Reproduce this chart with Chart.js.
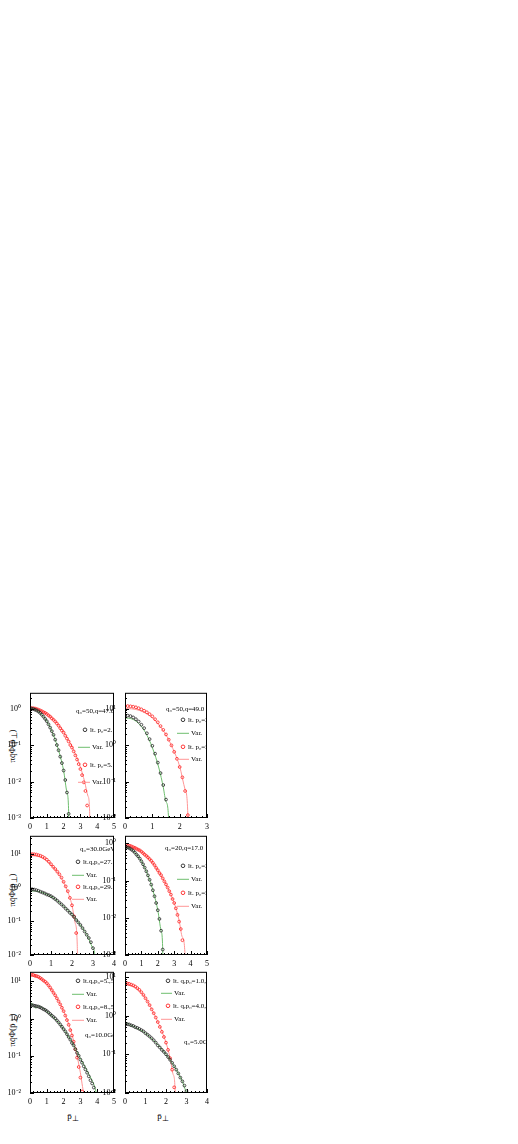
<!DOCTYPE html>
<html>
<head>
<meta charset="utf-8">
<script src="https://cdn.jsdelivr.net/npm/chart.js@4.4.0/dist/chart.umd.min.js"></script>
<style>
body{margin:0;background:#fff;width:518px;height:1144px;position:relative;overflow:hidden;font-family:"Liberation Serif",serif}
canvas{position:absolute}
.yt{position:absolute;transform:translate(-50%,-50%) rotate(-90deg);white-space:nowrap;font-size:9px;color:#000}
.xt{position:absolute;transform:translate(-50%,-50%);white-space:nowrap;font-size:9px;color:#000}
</style>
</head>
<body>
<div class="yt" style="left:13px;top:746px">πq̄Φ(p̄<sub>⊥</sub>)</div>
<div class="yt" style="left:13px;top:890px">πq̄Φ(p̄<sub>⊥</sub>)</div>
<div class="yt" style="left:13px;top:1030px">πq̄Φ(p̄<sub>⊥</sub>)</div>
<div class="xt" style="left:73px;top:1117px">p̄<sub>⊥</sub></div>
<div class="xt" style="left:163px;top:1117px">p̄<sub>⊥</sub></div>
<script>
// common p grid for the "lt." points
const gx = [0,0.1,0.2,0.3,0.4,0.5,0.6,0.7,0.8,0.9,1,1.1,1.2,1.3,1.4,1.5,1.6,1.7,1.8,1.9,2,2.1,2.2,2.3,2.4,2.5,2.6,2.7,2.8,2.9,3,3.1,3.2,3.3,3.4,3.5,3.6,3.7,3.8,3.9,4];

// panel 1: q0=50, q=47.0
const p1LtA = [1.0,0.99,0.97,0.93,0.89,0.83,0.76,0.68,0.60,0.52,0.45,0.37,0.30,0.24,0.19,0.14,0.10,0.072,0.048,0.032,0.020,0.011,0.005,0.0013];
const p1VarAX = [0,0.25,0.5,0.75,1.0,1.25,1.5,1.75,2.0,2.2,2.3,2.35];
const p1VarAY = [1.0,0.96,0.83,0.64,0.45,0.27,0.14,0.06,0.02,0.005,0.0015,1e-6];
const p1LtB = [1.05,1.03,1.02,1.0,0.97,0.93,0.89,0.85,0.80,0.76,0.71,0.65,0.60,0.54,0.49,0.44,0.39,0.34,0.29,0.25,0.22,0.18,0.15,0.125,0.10,0.085,0.067,0.052,0.040,0.030,0.022,0.015,0.0095,0.0055,0.0022];
const p1VarBX = [0,0.5,1,1.5,2,2.5,3,3.25,3.45,3.55,3.6];
const p1VarBY = [1.0,0.92,0.71,0.45,0.23,0.09,0.025,0.01,0.004,0.0015,1e-6];

// panel 2: q0=50, q=49.0
const p2LtA = [6.5,6.4,6.2,5.7,5.1,4.4,3.6,2.9,2.1,1.45,0.95,0.58,0.33,0.17,0.08,0.032,0.009];
const p2VarAX = [0,0.25,0.5,0.75,1.0,1.25,1.4,1.5,1.6,1.64];
const p2VarAY = [5.5,5.2,3.9,2.2,0.85,0.22,0.07,0.028,0.008,1e-6];
const p2LtB = [11.8,11.7,11.5,11.2,10.8,10.2,9.5,8.7,7.9,7.0,6.1,5.1,4.2,3.3,2.6,1.95,1.4,0.98,0.65,0.42,0.25,0.13,0.055,0.012];
const p2VarBX = [0,0.25,0.5,0.75,1.0,1.25,1.5,1.75,2.0,2.2,2.3,2.35];
const p2VarBY = [10.0,9.8,9.0,7.5,5.6,3.5,1.9,0.8,0.26,0.06,0.012,1e-6];

// panel 3: q0=30.0GeV
const p3LtA = [0.91,0.90,0.88,0.85,0.81,0.76,0.72,0.68,0.63,0.60,0.56,0.51,0.46,0.41,0.36,0.32,0.28,0.24,0.21,0.18,0.16,0.135,0.11,0.093,0.078,0.063,0.050,0.040,0.032,0.024,0.016,0.0063];
const p3VarAX = [0,0.25,0.5,0.75,1.0,1.5,2.0,2.5,2.75,3.0,3.1,3.15];
const p3VarAY = [0.8,0.8,0.75,0.66,0.56,0.32,0.16,0.063,0.036,0.016,0.007,1e-6];
const p3LtB = [10.0,10.0,9.9,9.7,9.3,8.9,8.3,7.6,6.8,5.9,5.0,4.2,3.6,3.0,2.5,2.0,1.5,1.1,0.79,0.5,0.3,0.14,0.045,0.003];
const p3VarBX = [0,0.25,0.5,0.75,1.0,1.25,1.5,1.75,2.0,2.15,2.25,2.32];
const p3VarBY = [9.0,8.9,8.2,6.8,4.8,3.2,1.9,0.9,0.3,0.09,0.02,1e-6];

// panel 4: q0=20, q=17.0
const p4LtA = [0.79,0.785,0.77,0.73,0.68,0.63,0.57,0.50,0.45,0.39,0.33,0.275,0.224,0.178,0.138,0.105,0.078,0.055,0.038,0.025,0.016,0.0093,0.0045,0.0014];
const p4VarAX = [0,0.25,0.5,0.75,1.0,1.25,1.5,1.75,2.0,2.2,2.3,2.35];
const p4VarAY = [0.78,0.75,0.63,0.47,0.33,0.2,0.105,0.046,0.016,0.0045,0.0014,1e-6];
const p4LtB = [0.85,0.87,0.87,0.86,0.83,0.79,0.76,0.72,0.68,0.65,0.60,0.55,0.50,0.46,0.42,0.38,0.34,0.30,0.26,0.22,0.19,0.16,0.14,0.115,0.095,0.079,0.065,0.052,0.042,0.032,0.025,0.018,0.012,0.0079,0.005,0.0025,0.0006];
const p4VarBX = [0,0.5,1.0,1.5,2.0,2.5,3.0,3.3,3.5,3.65,3.7];
const p4VarBY = [0.82,0.78,0.6,0.38,0.19,0.079,0.025,0.0085,0.003,0.0012,1e-6];

// panel 5: q0=10.0GeV
const p5LtA = [2.3,2.3,2.24,2.19,2.14,2.09,2.0,1.9,1.78,1.7,1.58,1.45,1.32,1.2,1.1,1.0,0.89,0.79,0.69,0.6,0.52,0.45,0.38,0.32,0.27,0.22,0.19,0.15,0.12,0.1,0.079,0.065,0.052,0.043,0.035,0.028,0.022,0.018,0.014,0.0079];
const p5VarAX = [0,0.1,0.2,0.35,0.5,0.75,1.0,1.5,2.0,2.5,3.0,3.5,3.8,4.0,4.1,4.15];
const p5VarAY = [1.6,2.6,2.3,1.9,2.15,1.95,1.55,0.98,0.52,0.23,0.085,0.032,0.017,0.009,0.004,1e-6];
const p5LtB = [15.1,15.1,14.8,14.1,13.8,13.2,12.3,11.5,10.5,9.8,8.9,7.8,6.8,5.8,4.9,4.2,3.5,2.9,2.4,1.95,1.58,1.2,0.91,0.68,0.49,0.35,0.24,0.15,0.089,0.05,0.026,0.011,0.0025];
const p5VarBX = [0,0.5,1.0,1.5,2.0,2.5,2.8,3.0,3.2,3.3,3.32];
const p5VarBY = [14.0,12.5,8.7,4.2,1.6,0.37,0.1,0.035,0.011,0.004,1e-6];

// panel 6: q0=5.0GeV
const p6LtA = [0.6,0.6,0.59,0.56,0.54,0.5,0.48,0.45,0.42,0.39,0.35,0.32,0.29,0.26,0.23,0.2,0.17,0.15,0.13,0.115,0.1,0.085,0.072,0.06,0.049,0.04,0.032,0.025,0.02,0.0155,0.0112,0.005];
const p6VarAX = [0,0.1,0.25,0.5,1.0,1.5,2.0,2.5,2.8,3.0,3.1,3.12];
const p6VarAY = [0.62,0.64,0.58,0.5,0.35,0.2,0.1,0.04,0.02,0.011,0.006,1e-6];
const p6LtB = [6.8,6.8,6.6,6.3,6.0,5.6,5.1,4.6,4.0,3.4,2.8,2.3,1.86,1.45,1.15,0.89,0.68,0.51,0.38,0.28,0.2,0.13,0.079,0.04,0.014,0.001];
const p6VarBX = [0,0.5,1.0,1.5,2.0,2.2,2.35,2.45,2.5];
const p6VarBY = [6.2,5.4,2.8,0.9,0.2,0.08,0.03,0.01,1e-6];

// axis ranges and labelled decades
const xMaxes = [5,3,4,5,5,4];
const yMins = [1e-3,1e-2,1e-2,1e-3,1e-2,1e-2];
const yMaxes = [2.7,27,35,1.6,18,13.5];
const yDecades = [[0,-1,-2,-3],[1,0,-1,-2],[1,0,-1,-2],[0,-1,-2,-3],[1,0,-1,-2],[1,0,-1,-2]];

// legend texts
const titles = ['q₀=50,q=47.0','q₀=50,q=49.0','q₀=30.0GeV','q₀=20,q=17.0','q₀=10.0GeV','q₀=5.0GeV'];
const ltLabels = [
  ['lt. p₀=2.','lt. p₀=5.'],
  ['lt. p₀=2.','lt. p₀=5.'],
  ['lt.q,p₀=27.5,','lt.q,p₀=29.5,'],
  ['lt. p₀=2.','lt. p₀=5.'],
  ['lt.q,p₀=5.,5.','lt.q,p₀=8.,5.'],
  ['lt. q,p₀=1.0,4.','lt. q,p₀=4.0,4.']
];

const BLACK = '#262626', GREEN = 'rgb(110,190,110)', RED = 'rgb(255,35,35)', PINK = 'rgb(255,150,150)';
const FONT = '"Liberation Serif", serif';
const sup = {'1':'10¹','0':'10⁰','-1':'10⁻¹','-2':'10⁻²','-3':'10⁻³'};

// plot boxes on the page
const boxes = [
  {l:30,t:691,r:114,b:818},{l:125,t:691,r:207,b:818},
  {l:30,t:834,r:114,b:955},{l:125,t:834,r:207,b:955},
  {l:30,t:970,r:114,b:1093},{l:125,t:970,r:207,b:1093}
];
// legend layout, offsets from plot box top-left: title, row y's, marker x, line x
const legendPos = [
  {tx:46,ty:18,rows:[37,54,72,89],mx:55,lx:[48,60]},
  {tx:41,ty:16,rows:[27,40,54,66],mx:58,lx:[52,64]},
  {tx:50,ty:13,rows:[26,39,51,63],mx:48,lx:[42,54]},
  {tx:40,ty:12,rows:[30,43,57,70],mx:58,lx:[52,64]},
  {tx:55,ty:63,rows:[9,22,35,48],mx:48,lx:[42,54]},
  {tx:59,ty:70,rows:[9,21,34,47],mx:43,lx:[36,47]}
];

const PADL = 28, PADT = 4, PADR = 6, PADB = 16;

function pts(xs, ys) { return ys.map((y, i) => ({x: xs[i], y: y})); }

const framePlugin = {
  id: 'frame',
  afterDatasetsDraw(chart, args, o) {
    const ctx = chart.ctx, a = chart.chartArea, xs = chart.scales.x, ys = chart.scales.y;
    ctx.save();
    ctx.strokeStyle = '#000';
    ctx.lineWidth = 1;
    ctx.strokeRect(a.left + 0.5, a.top + 0.5, a.right - a.left - 1, a.bottom - a.top - 1);
    ctx.beginPath();
    for (let i = 0; i <= o.xMax * 5; i++) {
      const px = Math.round(xs.getPixelForValue(i / 5)) + 0.5;
      const len = i % 5 === 0 ? 4 : 2;
      ctx.moveTo(px, a.bottom); ctx.lineTo(px, a.bottom - len);
    }
    for (let e = -4; e <= 2; e++) {
      for (let m = 1; m <= 9; m++) {
        const v = m * Math.pow(10, e);
        if (v < ys.min * 0.999 || v > ys.max) continue;
        const py = Math.round(ys.getPixelForValue(v)) + 0.5;
        ctx.moveTo(a.left, py); ctx.lineTo(a.left + (m === 1 ? 4 : 2), py);
      }
    }
    ctx.stroke();

    // x tick labels
    ctx.font = '8px ' + FONT;
    ctx.fillStyle = '#000';
    ctx.textAlign = 'center';
    ctx.textBaseline = 'middle';
    for (let k = 0; k <= o.xMax; k++) {
      ctx.fillText(String(k), xs.getPixelForValue(k), a.bottom + 9);
    }
    ctx.textAlign = 'left';

    // legend, clipped to the frame
    ctx.beginPath();
    ctx.rect(a.left + 1, a.top + 1, a.right - a.left - 2, a.bottom - a.top - 2);
    ctx.clip();
    const p = o.pos, L = a.left, T = a.top;
    ctx.font = '7px ' + FONT;
    ctx.fillText(o.title, L + p.tx, T + p.ty);
    const rowCols = [BLACK, GREEN, RED, PINK];
    p.rows.forEach((ry, k) => {
      const y = T + ry;
      if (k % 2 === 0) {
        ctx.strokeStyle = rowCols[k]; ctx.lineWidth = 0.9;
        ctx.beginPath(); ctx.arc(L + p.mx, y, 1.8, 0, Math.PI * 2); ctx.stroke();
        ctx.fillStyle = '#000';
        ctx.fillText(o.lt[k / 2], L + p.mx + 5, y);
      } else {
        ctx.strokeStyle = rowCols[k]; ctx.lineWidth = 1;
        ctx.beginPath(); ctx.moveTo(L + p.lx[0], y + 0.5); ctx.lineTo(L + p.lx[1], y + 0.5); ctx.stroke();
        ctx.fillStyle = '#000';
        ctx.fillText('Var.', L + p.lx[1] + 2, y);
      }
    });
    ctx.restore();
  }
};

const panels = [
  [p1LtA, p1VarAX, p1VarAY, p1LtB, p1VarBX, p1VarBY],
  [p2LtA, p2VarAX, p2VarAY, p2LtB, p2VarBX, p2VarBY],
  [p3LtA, p3VarAX, p3VarAY, p3LtB, p3VarBX, p3VarBY],
  [p4LtA, p4VarAX, p4VarAY, p4LtB, p4VarBX, p4VarBY],
  [p5LtA, p5VarAX, p5VarAY, p5LtB, p5VarBX, p5VarBY],
  [p6LtA, p6VarAX, p6VarAY, p6LtB, p6VarBX, p6VarBY]
];

panels.forEach((d, i) => {
  const box = boxes[i];
  const w = box.r - box.l + PADL + PADR, h = box.b - box.t + PADT + PADB;
  const c = document.createElement('canvas');
  c.width = w; c.height = h;
  c.style.width = w + 'px'; c.style.height = h + 'px';
  c.style.left = (box.l - PADL) + 'px'; c.style.top = (box.t - PADT) + 'px';
  document.body.appendChild(c);

  const marks = (ys, col) => ({data: pts(gx, ys), showLine: false, pointStyle: 'circle', pointRadius: 1.4,
    pointBorderWidth: 0.8, pointBorderColor: col, pointBackgroundColor: 'rgba(0,0,0,0)'});
  const line = (xs, ys, col) => ({data: pts(xs, ys), showLine: true, pointRadius: 0, borderColor: col,
    borderWidth: 1, cubicInterpolationMode: 'monotone'});

  new Chart(c, {
    type: 'scatter',
    data: {datasets: [
      marks(d[0], BLACK), line(d[1], d[2], GREEN),
      marks(d[3], RED), line(d[4], d[5], PINK)
    ]},
    options: {
      responsive: false, animation: false, devicePixelRatio: 1,
      layout: {padding: {left: 0, top: PADT, right: PADR, bottom: 0}},
      plugins: {legend: {display: false}, tooltip: {enabled: false},
        frame: {xMax: xMaxes[i], pos: legendPos[i], title: titles[i], lt: ltLabels[i]}},
      scales: {
        x: {type: 'linear', min: 0, max: xMaxes[i],
          afterFit: s => { s.height = PADB; },
          grid: {display: false}, border: {display: false},
          ticks: {display: false}},
        y: {type: 'logarithmic', min: yMins[i], max: yMaxes[i],
          afterBuildTicks: s => { s.ticks = yDecades[i].map(e => ({value: Math.pow(10, e)})); },
          afterFit: s => { s.width = PADL; },
          grid: {display: false}, border: {display: false},
          ticks: {autoSkip: false, padding: 1, color: '#000',
            font: {family: FONT, size: 8}, callback: v => sup[String(Math.round(Math.log10(v)))]}}
      }
    },
    plugins: [framePlugin]
  });
});
</script>
</body>
</html>
